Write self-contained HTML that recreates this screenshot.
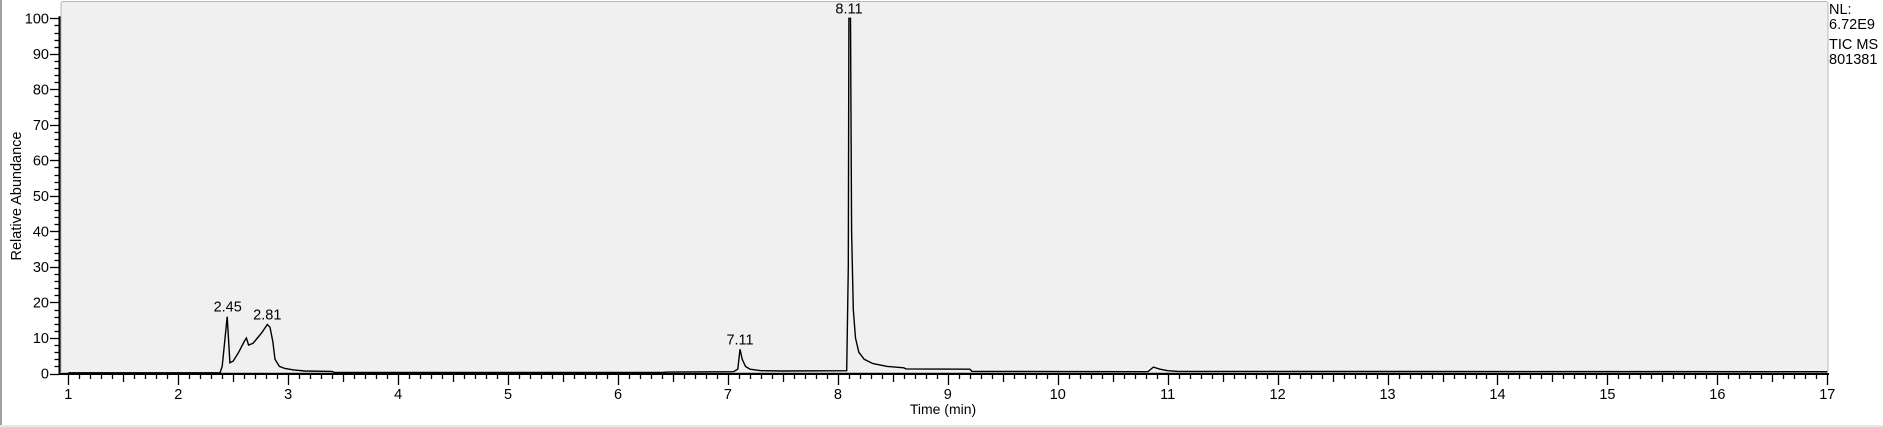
<!DOCTYPE html>
<html><head><meta charset="utf-8"><style>
html,body{margin:0;padding:0;background:#fff;width:1883px;height:427px;overflow:hidden}
svg{display:block;font-family:"Liberation Sans",Arial,sans-serif}
</style></head><body>
<svg id="chart" width="1883" height="427" xmlns="http://www.w3.org/2000/svg">
<rect x="0" y="0" width="1883" height="427" fill="#fff"/>
<line x1="1" y1="0" x2="1" y2="425" stroke="#a0a0a0" stroke-width="2"/>
<line x1="0" y1="426" x2="1883" y2="426" stroke="#e8e8e8" stroke-width="2"/>
<rect x="61" y="1.5" width="1767" height="371" fill="#f0f0f0" stroke="#b8b8b8" stroke-width="1" rx="2"/>
<g id="axes"></g>
<g id="series"></g>
<g id="labels"></g>
<text transform="translate(21,196) rotate(-90)" text-anchor="middle" font-size="14.5" fill="#000">Relative Abundance</text>
<text x="943" y="414" text-anchor="middle" font-size="14" fill="#000">Time (min)</text>
<g font-size="14.5" fill="#000">
<text x="1829" y="14">NL:</text>
<text x="1829" y="29">6.72E9</text>
<text x="1829" y="49">TIC  MS</text>
<text x="1829" y="64">801381</text>
</g>
</svg>
<script>
const times=[1.0,2.38,2.40,2.445,2.47,2.50,2.55,2.60,2.62,2.64,2.68,2.72,2.76,2.81,2.835,2.86,2.88,2.92,2.97,3.05,3.15,3.40,3.42,6.40,6.45,7.05,7.09,7.11,7.13,7.16,7.2,7.3,7.5,8.08,8.095,8.10,8.115,8.125,8.14,8.16,8.19,8.24,8.32,8.45,8.6,8.62,9.2,9.22,10.82,10.87,10.93,11.0,11.1,17.0];
const values=[0.2,0.2,2,16,3,3.5,6,9,10,8,8.5,10,11.5,13.8,13,9,4,2,1.4,1,0.7,0.6,0.3,0.3,0.4,0.5,1.2,6.8,4,2,1.2,0.8,0.7,0.8,30,100,100,40,18,10,6,4,2.8,2,1.6,1.3,1.2,0.6,0.5,1.8,1.2,0.8,0.6,0.5];
const peakTimes=[2.45,2.81,7.11,8.11];
const peakValues=[16,13.8,6.8,100];
const peakLabels=["2.45","2.81","7.11","8.11"];
const xTicks=[1,2,3,4,5,6,7,8,9,10,11,12,13,14,15,16,17];
const yTicks=[0,10,20,30,40,50,60,70,80,90,100];
const NS="http://www.w3.org/2000/svg";
const X0=68.3,X1=1827.3,Y0=373.5,Y1=18.3;
const xs=t=>X0+(t-1)*(X1-X0)/16;
const ys=v=>Y0-(v)*(Y0-Y1)/100;
function mk(tag,attrs,parent){const e=document.createElementNS(NS,tag);for(const k in attrs)e.setAttribute(k,attrs[k]);parent.appendChild(e);return e;}
const axes=document.getElementById('axes');
let l=mk('line',{x1:59.5,y1:ys(100)-2,x2:59.5,y2:375,stroke:'#000','stroke-width':2},axes);


l=mk('line',{x1:59,y1:374,x2:1829,y2:374,stroke:'#000','stroke-width':2},axes);


for(let v=0;v<=100;v+=2){const y=Math.round(ys(v))+0.5;const major=v%10===0;
 const t=mk('line',{x1:major?50:54.5,y1:y,x2:59,y2:y,stroke:'#000','stroke-width':1.3},axes);
 
 }
yTicks.forEach(v=>{const t=mk('text',{x:49,y:ys(v)+5,'text-anchor':'end','font-size':14.5,fill:'#000'},axes);t.textContent=v;
 
 });
for(let i=0;i<=160;i++){const t=1+i/10;const x=Math.round(xs(t))+0.5;const major=i%10===0;const mid=i%5===0;
 const e=mk('line',{x1:x,y1:375,x2:x,y2:major?385:(mid?382:379),stroke:'#000','stroke-width':1.3},axes);
 
 }
xTicks.forEach(v=>{const t=mk('text',{x:xs(v),y:399,'text-anchor':'middle','font-size':14.5,fill:'#000'},axes);t.textContent=v;
 
 });
const pts=times.map((t,i)=>xs(t).toFixed(1)+','+ys(values[i]).toFixed(1)).join(' ');
const pl=mk('polyline',{points:pts,fill:'none',stroke:'#000','stroke-width':1.4},document.getElementById('series'));


const lab=document.getElementById('labels');
peakTimes.forEach((t,i)=>{const e=mk('text',{x:xs(t)+(i===3?-1:0),y:ys(peakValues[i])-5,'text-anchor':'middle','font-size':14.5,fill:'#000'},lab);e.textContent=peakLabels[i];
 
 });
</script>
</body></html>
